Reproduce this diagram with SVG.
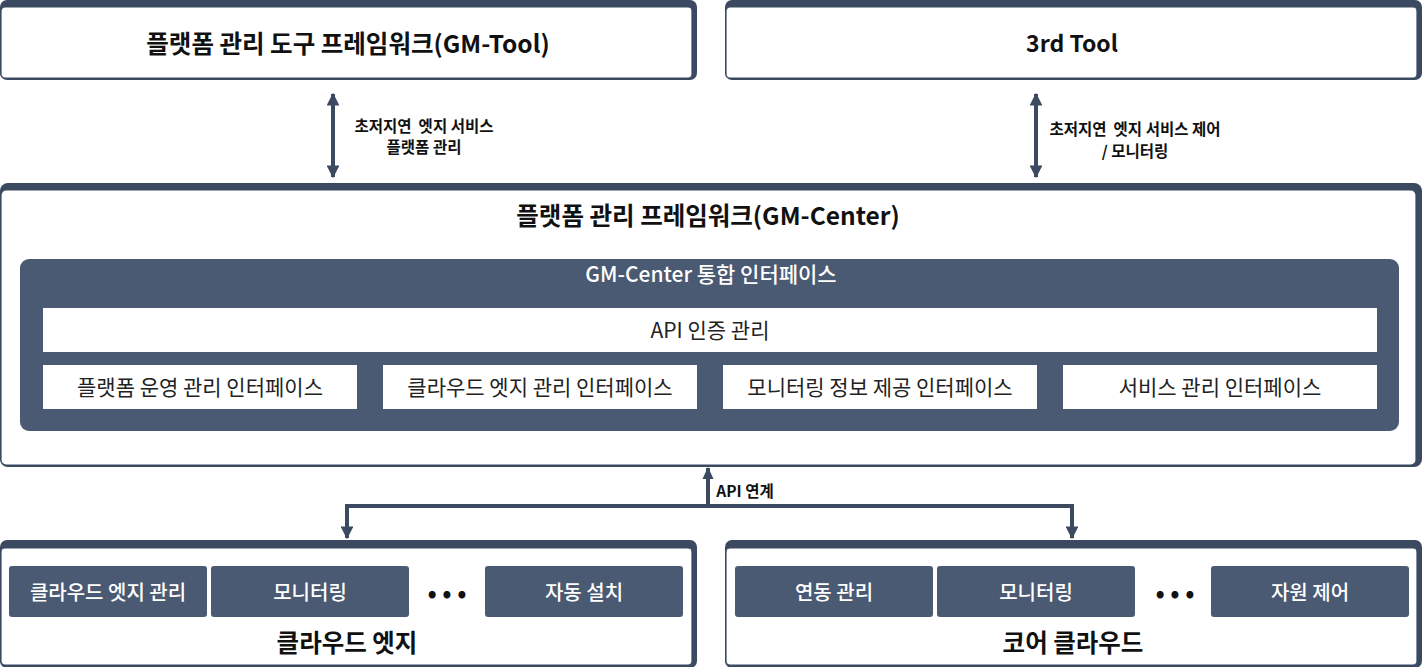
<svg xmlns="http://www.w3.org/2000/svg" width="1424" height="667" viewBox="0 0 1424 667">
<style>
.frame{fill:#3b4a60}
.inner{fill:#ffffff;stroke:#3b4a60;stroke-width:1.2}
.panel{fill:#4a5a72}
.wbox{fill:#ffffff}
text{font-family:"Noto Sans CJK KR","Noto Sans",sans-serif;text-anchor:middle;dominant-baseline:central}
.t1{font-size:24.5px;font-weight:700;fill:#111}
.t2{font-size:21px;font-weight:500;fill:#fff}
.t3{font-size:21px;font-weight:400;fill:#222}
.t4{font-size:20px;font-weight:500;fill:#fff}
.lbl{font-size:15.5px;font-weight:700;fill:#111}
.line{stroke:#3b4a60;stroke-width:4;fill:none}
</style>
<defs>
<marker id="ah" viewBox="0 0 10 10" refX="9" refY="5" markerWidth="3.2" markerHeight="3.2" orient="auto-start-reverse" markerUnits="strokeWidth">
<path d="M0,0 L10,5 L0,10 z" fill="#3b4a60"/>
</marker>
</defs>

<g id="gm-tool">
<rect class="frame" x="0" y="0" width="697" height="80" rx="7"/>
<rect class="inner" x="1" y="7" width="691" height="71" rx="4"/>
<text class="t1" x="348" y="42">플랫폼 관리 도구 프레임워크(GM-Tool)</text>
</g>

<g id="3rd-tool">
<rect class="frame" x="725" y="0" width="697" height="80" rx="7"/>
<rect class="inner" x="726" y="7" width="691" height="71" rx="4"/>
<text class="t1" x="1072" y="42" style="font-size:23px">3rd Tool</text>
</g>

<g id="gm-center">
<rect class="frame" x="0" y="183" width="1422" height="284" rx="8"/>
<rect class="inner" x="1" y="190" width="1415" height="275" rx="5"/>
<text class="t1" x="708" y="214">플랫폼 관리 프레임워크(GM-Center)</text>
</g>

<g id="gm-center-interface">
<rect class="panel" x="20" y="259" width="1379" height="172" rx="9"/>
<text class="t2" x="711" y="273">GM-Center 통합 인터페이스</text>
</g>

<g id="api-auth">
<rect class="wbox" x="43" y="308" width="1334" height="44"/>
<text class="t3" x="710" y="329">API 인증 관리</text>
</g>

<g id="if-platform">
<rect class="wbox" x="43" y="365" width="314" height="44"/>
<text class="t3" x="200" y="386">플랫폼 운영 관리 인터페이스</text>
</g>
<g id="if-edge">
<rect class="wbox" x="383" y="365" width="314" height="44"/>
<text class="t3" x="540" y="386">클라우드 엣지 관리 인터페이스</text>
</g>
<g id="if-monitor">
<rect class="wbox" x="723" y="365" width="314" height="44"/>
<text class="t3" x="880" y="386">모니터링 정보 제공 인터페이스</text>
</g>
<g id="if-service">
<rect class="wbox" x="1063" y="365" width="314" height="44"/>
<text class="t3" x="1220" y="386">서비스 관리 인터페이스</text>
</g>

<g id="cloud-edge">
<rect class="frame" x="0" y="540" width="697" height="128" rx="7"/>
<rect class="inner" x="1" y="548" width="691" height="117" rx="4"/>
<rect class="panel" x="9" y="566" width="198" height="51" rx="3"/>
<text class="t4" x="108" y="591">클라우드 엣지 관리</text>
<rect class="panel" x="211" y="566" width="198" height="51" rx="3"/>
<text class="t4" x="310" y="591">모니터링</text>
<text class="t1" x="447" y="591">• • •</text>
<rect class="panel" x="485" y="566" width="198" height="51" rx="3"/>
<text class="t4" x="584" y="591">자동 설치</text>
<text class="t1" x="347" y="641">클라우드 엣지</text>
</g>

<g id="core-cloud">
<rect class="frame" x="725" y="540" width="697" height="128" rx="7"/>
<rect class="inner" x="726" y="548" width="691" height="117" rx="4"/>
<rect class="panel" x="735" y="566" width="198" height="51" rx="3"/>
<text class="t4" x="834" y="591">연동 관리</text>
<rect class="panel" x="937" y="566" width="198" height="51" rx="3"/>
<text class="t4" x="1036" y="591">모니터링</text>
<text class="t1" x="1175" y="591">• • •</text>
<rect class="panel" x="1211" y="566" width="198" height="51" rx="3"/>
<text class="t4" x="1310" y="591">자원 제어</text>
<text class="t1" x="1073" y="641">코어 클라우드</text>
</g>

<g id="connectors">
<line class="line" x1="333" y1="94" x2="333" y2="177" marker-start="url(#ah)" marker-end="url(#ah)"/>
<text class="lbl" x="424" y="125">초저지연&#160; 엣지 서비스</text>
<text class="lbl" x="424" y="146">플랫폼 관리</text>
<line class="line" x1="1036" y1="94" x2="1036" y2="177" marker-start="url(#ah)" marker-end="url(#ah)"/>
<text class="lbl" x="1135" y="128">초저지연&#160; 엣지 서비스 제어</text>
<text class="lbl" x="1135" y="150">/ 모니터링</text>
<polyline class="line" points="708,506 708,468"/>
<path d="M702.5,479 L708,467 L713.5,479 z" fill="#3b4a60"/>
<polyline class="line" points="347,538 347,506 1072,506 1072,538" marker-start="url(#ah)" marker-end="url(#ah)"/>
<text class="lbl" x="745" y="490">API 연계</text>
</g>
</svg>
